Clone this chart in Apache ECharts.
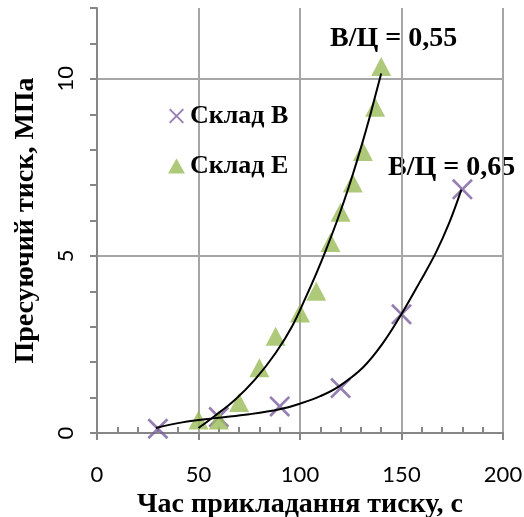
<!DOCTYPE html>
<html>
<head>
<meta charset="utf-8">
<script src="https://cdn.jsdelivr.net/npm/echarts@6/dist/echarts.min.js"></script>
<style>
  html, body { margin: 0; padding: 0; background: #fff; }
  #chart { width: 524px; height: 517px; }
</style>
</head>
<body>
<div id="chart"></div>
<script>
  // Склад В (В/Ц = 0,65) — точки
  const timeB = [30, 60, 90, 120, 150, 180]
  const pressB = [0.12, 0.45, 0.75, 1.27, 3.35, 6.88]
  // Склад Е (В/Ц = 0,55) — точки
  const timeE = [50, 60, 70, 80, 88, 100, 108, 115, 120, 126, 131, 137, 140]
  const pressE = [0.37, 0.37, 0.86, 1.84, 2.73, 3.39, 4.0, 5.38, 6.23, 7.06, 7.95, 9.2, 10.35]
  // лінії тренду
  const trendBx = [29, 42, 58, 75, 90, 100, 110, 119, 131, 141, 150, 159, 167, 173.5, 179.5]
  const trendBy = [0.14, 0.3, 0.42, 0.53, 0.67, 0.83, 1.04, 1.31, 1.85, 2.55, 3.36, 4.26, 5.1, 5.93, 6.87]
  const trendEx = [50, 58, 68, 78, 88, 96, 103, 108, 113, 118, 122, 126, 130, 134, 137, 140]
  const trendEy = [0.14, 0.48, 0.94, 1.52, 2.26, 3.0, 3.85, 4.5, 5.2, 5.95, 6.6, 7.3, 8.05, 8.85, 9.5, 10.15]
  const xTicks = [0, 200, 50]
  const yTicks = [0, 12, 1]

  const zip = (a, b) => a.map((v, i) => [v, b[i]])
  const crossPath = 'path://M0,9L9,0L50,41L91,0L100,9L59,50L100,91L91,100L50,59L9,100L0,91L41,50Z'
  const serifBold = { fontFamily: 'Liberation Serif', fontWeight: 'bold' }
  const axisGray = '#868686'
  const gridGray = '#a6a6a6'

  let chart = echarts.init(document.getElementById('chart'))
  chart.setOption({
    animation: false,
    grid: { left: 97, right: 21, top: 8, bottom: 84, outerBoundsMode: 'none' },
    legend: {
      orient: 'vertical',
      left: 163,
      top: 98,
      itemWidth: 17,
      itemHeight: 15,
      itemGap: 24,
      data: ['Склад В', 'Склад Е'],
      textStyle: Object.assign({ fontSize: 26, lineHeight: 26, color: '#000' }, serifBold)
    },
    xAxis: {
      type: 'value',
      min: xTicks[0], max: xTicks[1], interval: xTicks[2],
      name: 'Час прикладання тиску, с',
      nameLocation: 'middle',
      nameGap: 49,
      nameTextStyle: Object.assign({ fontSize: 28, color: '#000' }, serifBold),
      axisLine: { lineStyle: { color: axisGray, width: 2 } },
      axisTick: { show: true, length: 7, lineStyle: { color: axisGray, width: 2 } },
      minorTick: { show: true, splitNumber: 5, length: -6, lineStyle: { color: axisGray, width: 2 } },
      axisLabel: { margin: 31, fontFamily: 'Lato', fontSize: 22, color: '#000' },
      splitLine: { show: true, lineStyle: { color: gridGray, width: 2 } }
    },
    yAxis: {
      type: 'value',
      min: yTicks[0], max: yTicks[1], interval: yTicks[2],
      name: 'Пресуючий тиск, МПа',
      nameLocation: 'middle',
      nameGap: 57,
      nameTextStyle: Object.assign({ fontSize: 28, color: '#000' }, serifBold),
      axisLine: { show: true, lineStyle: { color: axisGray, width: 2 } },
      axisTick: { show: true, length: 7, lineStyle: { color: axisGray, width: 2 } },
      axisLabel: {
        margin: 20, rotate: 90, fontFamily: 'Lato', fontSize: 22, color: '#000',
        formatter: v => (v % 5 === 0 ? String(v) : '')
      },
      splitLine: {
        show: true,
        // сітка лише на 0, 5, 10
        lineStyle: { color: [gridGray, 'transparent', 'transparent', 'transparent', 'transparent'], width: 2 }
      }
    },
    graphic: [
      { type: 'text', left: 330, top: 25, style: Object.assign({ text: 'В/Ц = 0,55', fontSize: 28, fill: '#000' }, serifBold) },
      { type: 'text', left: 388, top: 154, style: Object.assign({ text: 'В/Ц = 0,65', fontSize: 28, fill: '#000' }, serifBold) }
    ],
    series: [
      {
        name: 'Склад В',
        type: 'scatter',
        symbol: crossPath,
        symbolSize: 21,
        itemStyle: { color: '#7a5e9e' },
        data: zip(timeB, pressB)
      },
      {
        name: 'Склад Е',
        type: 'scatter',
        symbol: 'triangle',
        symbolSize: [20, 19],
        itemStyle: { color: '#9bbb59' },
        data: zip(timeE, pressE)
      },
      {
        type: 'line',
        smooth: 0.4,
        showSymbol: false,
        lineStyle: { color: '#000', width: 2 },
        data: zip(trendBx, trendBy)
      },
      {
        type: 'line',
        smooth: 0.4,
        showSymbol: false,
        lineStyle: { color: '#000', width: 2 },
        data: zip(trendEx, trendEy)
      }
    ]
  })
</script>
</body>
</html>
